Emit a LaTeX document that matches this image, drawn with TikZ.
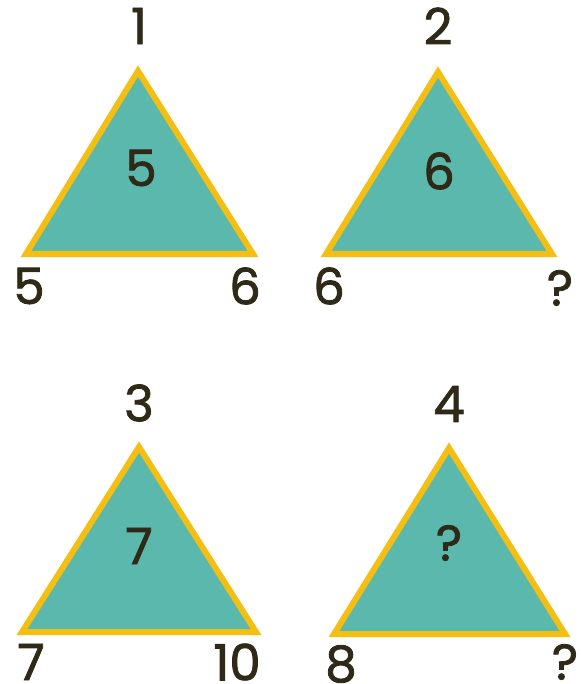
\documentclass[tikz,border=0pt]{standalone}
\usepackage{fontspec}
\setmainfont{Poppins}[FakeBold=1.6]
\definecolor{tealfill}{HTML}{5AB8AD}
\definecolor{goldline}{HTML}{F4BE12}
\definecolor{ink}{HTML}{2E2A17}
\begin{document}
\begin{tikzpicture}[x=1pt,y=-1pt,
  tri/.style={fill=tealfill,draw=goldline,line width=6pt,line join=miter},
  num/.style={text=ink,font=\fontsize{50}{50}\selectfont,inner sep=0pt,anchor=center}]
\useasboundingbox (0,0) rectangle (580,684);
% triangle 1
\coordinate (a1) at (138,71); \coordinate (b1) at (26,254); \coordinate (c1) at (253,254);
\draw[tri] (a1) -- (b1) -- (c1) -- cycle;
\node[num] (t1) at (139,26) {1};
\node[num] (m1) at (141,168) {5};
\node[num] (l1) at (29,286) {5};
\node[num] (r1) at (245,286) {6};
% triangle 2
\coordinate (a2) at (438,72); \coordinate (b2) at (326,254); \coordinate (c2) at (552,254);
\draw[tri] (a2) -- (b2) -- (c2) -- cycle;
\node[num] (t2) at (438,26) {2};
\node[num] (m2) at (439,171) {6};
\node[num] (l2) at (329,286) {6};
\node[num] (r2) at (560,288) {?};
% triangle 3
\coordinate (a3) at (139,447); \coordinate (b3) at (22,632); \coordinate (c3) at (256,632);
\draw[tri] (a3) -- (b3) -- (c3) -- cycle;
\node[num] (t3) at (139,403) {3};
\node[num] (m3) at (139,546) {7};
\node[num] (l3) at (31,662) {7};
\node[num] (r3) at (237,662) {10};
% triangle 4
\coordinate (a4) at (449,448); \coordinate (b4) at (334,634); \coordinate (c4) at (565,634);
\draw[tri] (a4) -- (b4) -- (c4) -- cycle;
\node[num] (t4) at (449,404) {4};
\node[num] (m4) at (449,543) {?};
\node[num] (l4) at (341,664) {8};
\node[num] (r4) at (565,662) {?};
\end{tikzpicture}
\end{document}
